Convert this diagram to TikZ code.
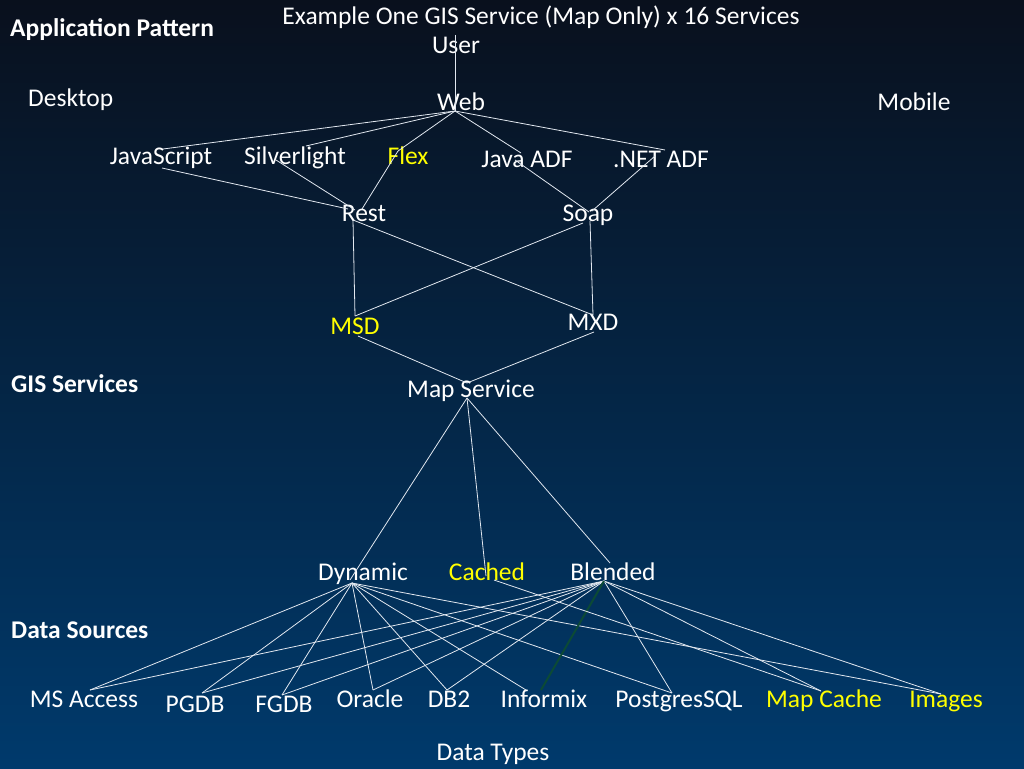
\documentclass[tikz,border=0pt]{standalone}
\usepackage{fontspec}
\setmainfont{Carlito}
\definecolor{bgtop}{HTML}{09101D}
\definecolor{bgmid}{HTML}{06264A}
\definecolor{bgbot}{HTML}{003A6C}
\definecolor{hlyellow}{HTML}{FFFF00}
\definecolor{linecol}{HTML}{E2E8F0}
\definecolor{darkgreen}{HTML}{0C4A36}
\begin{document}
\begin{tikzpicture}[x=1pt,y=-1pt,
  lbl/.style={text=white,font=\fontsize{25.5}{30}\selectfont,inner sep=0pt,anchor=base},
  ylbl/.style={lbl,text=hlyellow},
  head/.style={text=white,font=\fontsize{25.5}{30}\selectfont\bfseries,inner sep=0pt,anchor=base west},
  conn/.style={draw=linecol,line width=0.8pt},
  gconn/.style={draw=darkgreen,line width=2pt},
]
\useasboundingbox (0,0) rectangle (1024,768);
\shade[top color=bgtop,middle color=bgmid,bottom color=bgbot] (0,0) rectangle (1024,768);

% ---- text nodes ----
\node[lbl] (title) at (541,25) {Example One GIS Service (Map Only) x 16 Services};
\node[head] (apppat) at (10,37) {Application Pattern};
\node[lbl] (user) at (456,53) {User};
\node[lbl,anchor=base west] (desktop) at (28,106) {Desktop};
\node[lbl] (web) at (461,110) {Web};
\node[lbl] (mobile) at (914,110) {Mobile};
\node[lbl] (js) at (161,164) {JavaScript};
\node[lbl] (sl) at (295,164) {Silverlight};
\node[ylbl] (flex) at (408,164) {Flex};
\node[lbl] (jadf) at (527,167) {Java ADF};
\node[lbl] (nadf) at (661,167) {.NET ADF};
\node[lbl] (rest) at (364,221) {Rest};
\node[lbl] (soap) at (588,221) {Soap};
\node[ylbl] (msd) at (355,334) {MSD};
\node[lbl] (mxd) at (593,330) {MXD};
\node[head] (gis) at (11,392) {GIS Services};
\node[lbl] (mapsvc) at (471,397) {Map Service};
\node[lbl] (dyn) at (363,580) {Dynamic};
\node[ylbl] (cached) at (487,580) {Cached};
\node[lbl] (blend) at (613,580) {Blended};
\node[head] (dsrc) at (11,638) {Data Sources};
\node[lbl] (msacc) at (84,707) {MS Access};
\node[lbl] (pgdb) at (195,712) {PGDB};
\node[lbl] (fgdb) at (284,712) {FGDB};
\node[lbl] (oracle) at (370,707) {Oracle};
\node[lbl] (db2) at (449,707) {DB2};
\node[lbl] (informix) at (544,707) {Informix};
\node[lbl] (pgsql) at (679,707) {PostgresSQL};
\node[ylbl] (mapcache) at (824,707) {Map Cache};
\node[ylbl] (images) at (946,707) {Images};
\node[lbl] (dtypes) at (493,760) {Data Types};

% ---- attachment points ----
\coordinate (user-b) at (455,35);
\coordinate (web-h) at (455,111);
\coordinate (js-t) at (163,149);
\coordinate (js-b) at (162,168);
\coordinate (sl-t) at (306,146);
\coordinate (sl-b) at (276,160);
\coordinate (flex-p) at (398,151);
\coordinate (jadf-t) at (521,153);
\coordinate (jadf-b) at (515,160);
\coordinate (nadf-t) at (665,150);
\coordinate (nadf-b) at (655,156);
\coordinate (rest-t1) at (348,209);
\coordinate (rest-t2) at (355,210);
\coordinate (rest-t3) at (362,209);
\coordinate (rest-h) at (353,220);
\coordinate (soap-t1) at (589,212);
\coordinate (soap-t2) at (592,211);
\coordinate (soap-h) at (590,221);
\coordinate (soap-l) at (583,223);
\coordinate (msd-t) at (355,316);
\coordinate (msd-b) at (358,336);
\coordinate (mxd-t) at (593,315);
\coordinate (mxd-b) at (594,332);
\coordinate (map-t) at (467,383);
\coordinate (map-h) at (467,398);
\coordinate (dyn-t) at (350,580);
\coordinate (cached-t) at (486,576);
\coordinate (cached-b) at (494,580);
\coordinate (blend-t) at (610,563);
\coordinate (dyn-h) at (352,583);
\coordinate (blend-h) at (604,581);
\coordinate (msacc-t) at (90,690);
\coordinate (pgdb-t) at (202,693);
\coordinate (fgdb-t) at (282,695);
\coordinate (oracle-t) at (373,690);
\coordinate (db2-t) at (447,690);
\coordinate (inf-t1) at (526,690);
\coordinate (inf-t2) at (541,690);
\coordinate (pgsql-t) at (672,693);
\coordinate (mapc-t) at (821,691);
\coordinate (img-t) at (941,694);

% ---- connectors ----
\draw[conn] (user-b) -- (web-h);
\draw[conn] (web-h) -- (js-t);
\draw[conn] (web-h) -- (sl-t);
\draw[conn] (web-h) -- (flex-p);
\draw[conn] (web-h) -- (jadf-t);
\draw[conn] (web-h) -- (nadf-t);
\draw[conn] (js-b) -- (rest-t1);
\draw[conn] (sl-b) -- (rest-t2);
\draw[conn] (flex-p) -- (rest-t3);
\draw[conn] (jadf-b) -- (soap-t1);
\draw[conn] (nadf-b) -- (soap-t2);
\draw[conn] (rest-h) -- (msd-t);
\draw[conn] (rest-h) -- (mxd-t);
\draw[conn] (soap-h) -- (mxd-t);
\draw[conn] (soap-l) -- (msd-t);
\draw[conn] (msd-b) -- (map-t);
\draw[conn] (mxd-b) -- (map-t);
\draw[conn] (map-h) -- (dyn-t);
\draw[conn] (map-h) -- (cached-t);
\draw[conn] (map-h) -- (blend-t);
\foreach \t in {msacc-t,pgdb-t,fgdb-t,oracle-t,db2-t,inf-t1,pgsql-t,img-t}
  \draw[conn] (dyn-h) -- (\t);
\foreach \t in {msacc-t,pgdb-t,fgdb-t,oracle-t,db2-t,pgsql-t,mapc-t,img-t}
  \draw[conn] (blend-h) -- (\t);
\draw[gconn] (blend-h) -- (inf-t2);
\draw[conn] (cached-b) -- (mapc-t);
\end{tikzpicture}
\end{document}
